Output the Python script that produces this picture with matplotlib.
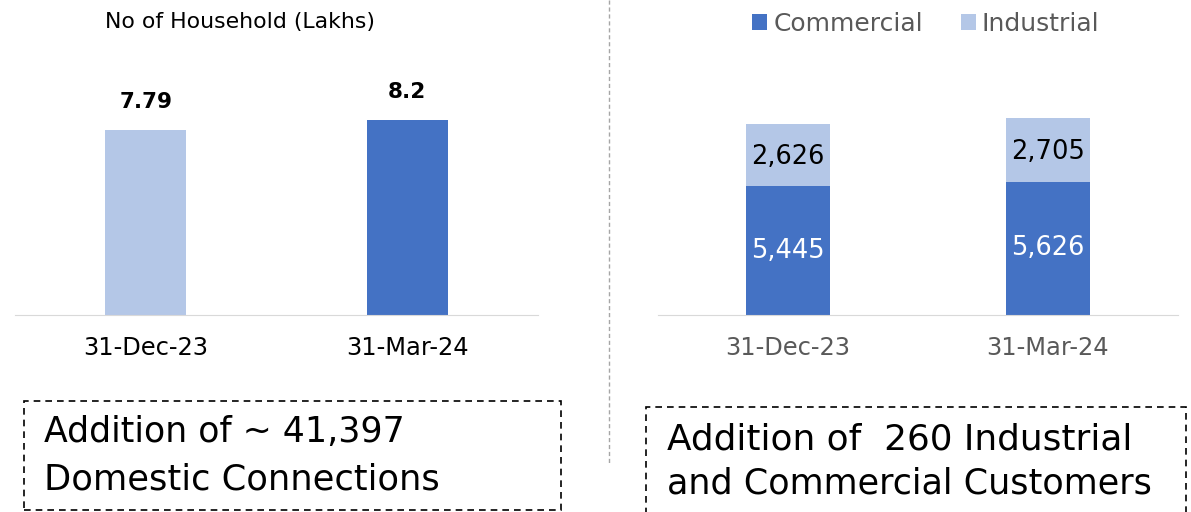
import matplotlib
matplotlib.use("Agg")
import matplotlib.pyplot as plt
from matplotlib.patches import Rectangle
from matplotlib.lines import Line2D

plt.rcParams['font.family'] = ['DejaVu Sans']

# Data
dates = ["31-Dec-23", "31-Mar-24"]
households = [7.79, 8.2]
household_labels = ["7.79", "8.2"]
commercial = [5445, 5626]
industrial = [2626, 2705]

W, H = 1191, 512
fig = plt.figure(figsize=(W / 100, H / 100), dpi=100)

def px_axes(x0, y0, x1, y1):
    return fig.add_axes([x0 / W, 1 - y1 / H, (x1 - x0) / W, (y1 - y0) / H])

light = "#B4C7E7"
dark = "#4472C4"

# Left chart
ax1 = px_axes(15, 60, 538, 315)
x = list(range(len(dates)))
ax1.bar(x, households, width=0.31, color=[light, dark])
for xi, v, lab in zip(x, households, household_labels):
    ax1.text(xi, v + 0.75, lab, ha='center', va='bottom', fontsize=15.5, fontweight='bold', color='black')
ax1.set_xlim(-0.5, 1.5)
ax1.set_ylim(0, 10.74)
ax1.set_xticks(x)
ax1.set_xticklabels(dates, fontsize=17.4, color='black')
ax1.tick_params(axis='x', length=0, pad=15)
ax1.set_yticks([])
for s in ['top', 'right', 'left']:
    ax1.spines[s].set_visible(False)
ax1.spines['bottom'].set_color('#D9D9D9')
fig.text(240 / W, 1 - 22 / H, "No of Household (Lakhs)", ha='center', va='center', fontsize=15.8, color='black')

# Right chart
ax2 = px_axes(658, 60, 1178, 315)
b1 = ax2.bar(x, commercial, width=0.32, color=dark, label='Commercial')
b2 = ax2.bar(x, industrial, width=0.32, bottom=commercial, color=light, label='Industrial')
for xi, c, ind in zip(x, commercial, industrial):
    ax2.text(xi, c / 2, f"{c:,}", ha='center', va='center', fontsize=18.5, color='white')
    ax2.text(xi, c + ind / 2 - 80, f"{ind:,}", ha='center', va='center', fontsize=18.5, color='black')
ax2.set_xlim(-0.5, 1.5)
ax2.set_ylim(0, 10764)
ax2.set_xticks(x)
ax2.set_xticklabels(dates, fontsize=17.4, color='#595959')
ax2.tick_params(axis='x', length=0, pad=15)
ax2.set_yticks([])
for s in ['top', 'right', 'left']:
    ax2.spines[s].set_visible(False)
ax2.spines['bottom'].set_color('#D9D9D9')
fig.legend(handles=[b1, b2], loc='center', bbox_to_anchor=(926 / W, 1 - 24 / H), ncol=2, frameon=False,
           fontsize=18, labelcolor='#595959', handlelength=0.6, handleheight=0.6, handletextpad=0.25,
           columnspacing=1.5)

# Separator
fig.add_artist(Line2D([609 / W, 609 / W], [1 - 0 / H, 1 - 465 / H], color='#A6A6A6', lw=1, linestyle=(0, (3, 2))))

# Boxes
fig.add_artist(Rectangle((24 / W, 1 - 510 / H), (561 - 24) / W, (510 - 401) / H, fill=False,
                         edgecolor='black', lw=1.2, linestyle=(0, (4, 3)), transform=fig.transFigure))
fig.text(44 / W, 1 - 442 / H, "Addition of ~ 41,397", ha='left', va='baseline', fontsize=25, color='black')
fig.text(44 / W, 1 - 490 / H, "Domestic Connections", ha='left', va='baseline', fontsize=25.4, color='black')

fig.add_artist(Rectangle((646 / W, 1 - 530 / H), (1186 - 646) / W, (530 - 407) / H, fill=False,
                         edgecolor='black', lw=1.2, linestyle=(0, (4, 3)), transform=fig.transFigure))
fig.text(667 / W, 1 - 449 / H, "Addition of  260 Industrial", ha='left', va='baseline', fontsize=25.8, color='black')
fig.text(667 / W, 1 - 493 / H, "and Commercial Customers", ha='left', va='baseline', fontsize=25.2, color='black')

fig.savefig("out.png", dpi=100)
